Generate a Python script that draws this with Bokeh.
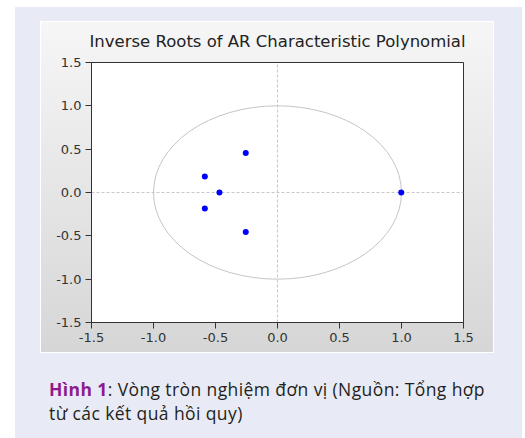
from bokeh.plotting import figure
from bokeh.models import Range1d, FixedTicker, NumeralTickFormatter, Div
from bokeh.layouts import column
from bokeh.embed import file_html
from bokeh.resources import INLINE

# Data: inverse AR roots (real, imaginary)
root_real = [-0.256, -0.586, -0.468, -0.586, -0.256, 0.998]
root_imag = [0.455, 0.185, 0.0, -0.185, -0.455, 0.0]
tick_values = [-1.5, -1.0, -0.5, 0.0, 0.5, 1.0, 1.5]
title_text = "Inverse Roots of AR Characteristic Polynomial"
caption_bold = "Hình 1"
caption_line1 = ": Vòng tròn nghiệm đơn vị (Nguồn: Tổng hợp"
caption_line2 = "từ các kết quả hồi quy)"

p = figure(width=452, height=330, output_backend="svg", toolbar_location=None,
           x_range=Range1d(-1.5, 1.5), y_range=Range1d(-1.5, 1.5),
           min_border_left=50, min_border_right=30, min_border_top=39, min_border_bottom=30,
           title=title_text)
p.border_fill_color = None
p.background_fill_color = "white"
p.outline_line_color = "#333333"
p.outline_line_width = 1
p.margin = (15, 0, 0, 26)
p.styles = {"background": "linear-gradient(to bottom, #f6f6f6, #d6d6d6)",
            "outline": "1px solid #ffffff"}

p.title.text_font = "DejaVu Sans"
p.title.text_font_size = "16.5px"
p.title.text_font_style = "normal"
p.title.text_color = "#222222"
p.title.align = "center"
p.title.vertical_align = "top"
p.title.standoff = 19

for ax in (p.xaxis, p.yaxis):
    ax.ticker = FixedTicker(ticks=tick_values)
    ax.formatter = NumeralTickFormatter(format="0.0")
    ax.major_label_text_font = "DejaVu Sans"
    ax.major_label_text_font_size = "13px"
    ax.major_label_text_color = "#333333"
    ax.axis_line_color = "#333333"
    ax.major_tick_line_color = "#333333"
    ax.major_tick_out = 6
    ax.major_tick_in = 0
    ax.minor_tick_line_color = None
    ax.major_label_standoff = 4

for g in (p.xgrid, p.ygrid):
    g.ticker = FixedTicker(ticks=[0.0])
    g.grid_line_color = "#c8c8c8"
    g.grid_line_dash = "3 2"

p.ellipse(x=0, y=0, width=2, height=2, fill_color=None, line_color="#c4c4c4", line_width=1)
p.scatter(x=root_real, y=root_imag, size=6, fill_color="#0000ff", line_color=None)

caption = Div(text=(
    '<div style="font-family:\'Open Sans\';font-size:17.5px;line-height:24px;'
    'letter-spacing:0.4px;color:#231f20;white-space:nowrap;">'
    f'<span style="color:#8e1b8e;font-weight:bold;">{caption_bold}</span>{caption_line1}<br>{caption_line2}</div>'),
    width=470, height=52)
caption.margin = (25, 0, 0, 34)

box = column(p, caption, width=507, height=431,
             styles={"background-color": "#e8ebf5"})
box.margin = (7, 0, 0, 15)

open("out.html", "w").write(file_html(box, INLINE))
